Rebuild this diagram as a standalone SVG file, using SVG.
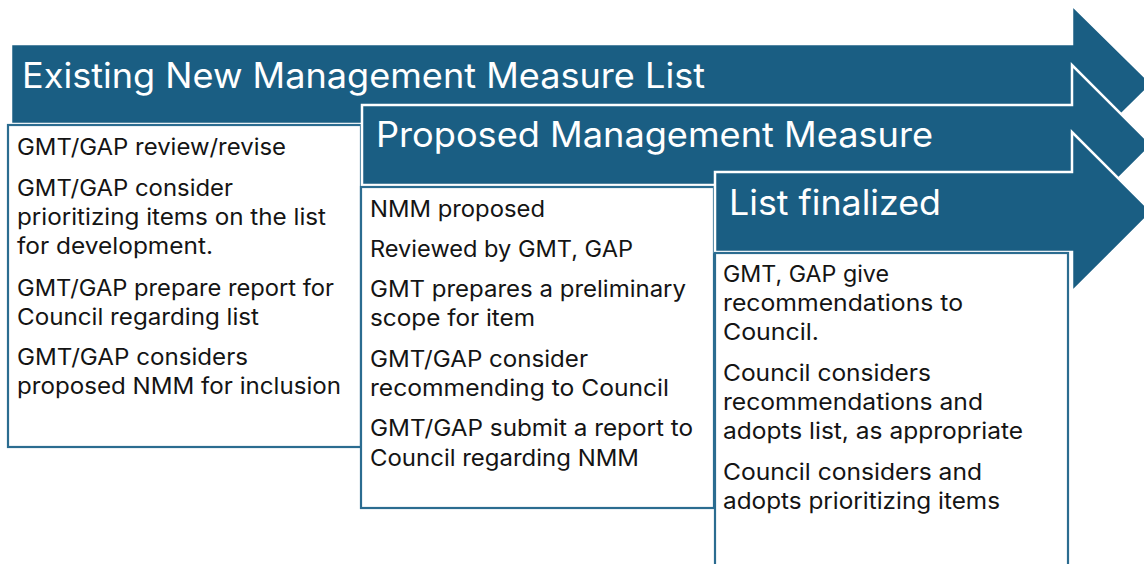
<svg xmlns="http://www.w3.org/2000/svg" width="1144" height="564" viewBox="0 0 1144 564">
<style>
.arrow{fill:#1a5e83;stroke:#ffffff;stroke-width:2.5;stroke-linejoin:miter}
.box{fill:#ffffff;stroke:#2b6c90;stroke-width:2.2}
.title{font-family:"Inter","Liberation Sans",sans-serif;font-size:35px;fill:#ffffff}
.body{font-family:"Inter","Liberation Sans",sans-serif;font-size:22.5px;fill:#141414}
</style>
<rect width="1144" height="564" fill="#ffffff"/>
<g id="phase-existing-list">
<polygon class="arrow" points="11,44 1072,44 1072,5 1152,84 1072,163 1072,124 11,124"/>
<text class="title" x="22" y="88" textLength="683" lengthAdjust="spacingAndGlyphs">Existing New Management Measure List</text>
<rect class="box" x="8" y="125" width="353" height="322"/>
<text class="body" x="17" y="155" textLength="269" lengthAdjust="spacingAndGlyphs">GMT/GAP review/revise</text>
<text class="body" x="17" y="196" textLength="216" lengthAdjust="spacingAndGlyphs">GMT/GAP consider</text>
<text class="body" x="17" y="225" textLength="309" lengthAdjust="spacingAndGlyphs">prioritizing items on the list</text>
<text class="body" x="17" y="254" textLength="196" lengthAdjust="spacingAndGlyphs">for development.</text>
<text class="body" x="17" y="296" textLength="317" lengthAdjust="spacingAndGlyphs">GMT/GAP prepare report for</text>
<text class="body" x="17" y="325" textLength="242" lengthAdjust="spacingAndGlyphs">Council regarding list</text>
<text class="body" x="17" y="365" textLength="231" lengthAdjust="spacingAndGlyphs">GMT/GAP considers</text>
<text class="body" x="17" y="394" textLength="324" lengthAdjust="spacingAndGlyphs">proposed NMM for inclusion</text>
</g>
<g id="phase-proposed-measure">
<polygon class="arrow" points="362,105 1072,105 1072,65 1152,145 1072,225 1072,185 362,185"/>
<text class="title" x="376" y="147" textLength="557" lengthAdjust="spacingAndGlyphs">Proposed Management Measure</text>
<rect class="box" x="361" y="187" width="353" height="321"/>
<text class="body" x="370" y="217" textLength="175" lengthAdjust="spacingAndGlyphs">NMM proposed</text>
<text class="body" x="370" y="257" textLength="263" lengthAdjust="spacingAndGlyphs">Reviewed by GMT, GAP</text>
<text class="body" x="370" y="297" textLength="316" lengthAdjust="spacingAndGlyphs">GMT prepares a preliminary</text>
<text class="body" x="370" y="326" textLength="165" lengthAdjust="spacingAndGlyphs">scope for item</text>
<text class="body" x="370" y="367" textLength="218" lengthAdjust="spacingAndGlyphs">GMT/GAP consider</text>
<text class="body" x="370" y="396" textLength="299" lengthAdjust="spacingAndGlyphs">recommending to Council</text>
<text class="body" x="370" y="436" textLength="323" lengthAdjust="spacingAndGlyphs">GMT/GAP submit a report to</text>
<text class="body" x="370" y="466" textLength="269" lengthAdjust="spacingAndGlyphs">Council regarding NMM</text>
</g>
<g id="phase-list-finalized">
<polygon class="arrow" points="715,172 1072,172 1072,132 1152,212 1072,292 1072,252 715,252"/>
<text class="title" x="729" y="215" textLength="212" lengthAdjust="spacingAndGlyphs">List finalized</text>
<rect class="box" x="715" y="253" width="353" height="330"/>
<text class="body" x="723" y="282" textLength="166" lengthAdjust="spacingAndGlyphs">GMT, GAP give</text>
<text class="body" x="723" y="311" textLength="240" lengthAdjust="spacingAndGlyphs">recommendations to</text>
<text class="body" x="723" y="340" textLength="96" lengthAdjust="spacingAndGlyphs">Council.</text>
<text class="body" x="723" y="381" textLength="208" lengthAdjust="spacingAndGlyphs">Council considers</text>
<text class="body" x="723" y="410" textLength="260" lengthAdjust="spacingAndGlyphs">recommendations and</text>
<text class="body" x="723" y="439" textLength="300" lengthAdjust="spacingAndGlyphs">adopts list, as appropriate</text>
<text class="body" x="723" y="480" textLength="259" lengthAdjust="spacingAndGlyphs">Council considers and</text>
<text class="body" x="723" y="509" textLength="277" lengthAdjust="spacingAndGlyphs">adopts prioritizing items</text>
</g>
</svg>
